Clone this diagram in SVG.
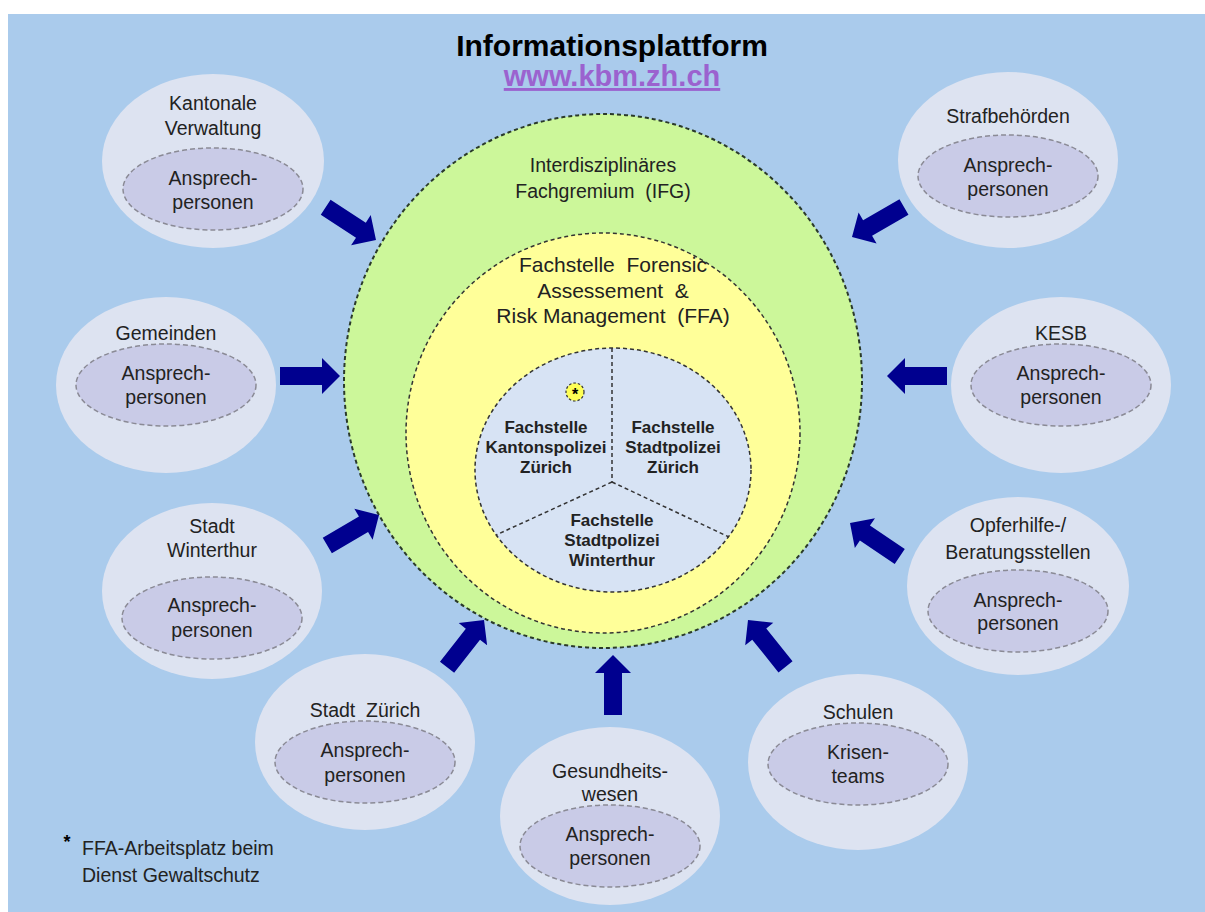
<svg xmlns="http://www.w3.org/2000/svg" width="1205" height="912" viewBox="0 0 1205 912">
<style>
text{font-family:"Liberation Sans",Arial,sans-serif;fill:#222;text-anchor:middle;white-space:pre}
.sat{fill:#dde3f1}
.inn{fill:#c9cbe7;stroke:#8a8a95;stroke-width:1.5;stroke-dasharray:5 3}
.t19{font-size:19.5px}
.b16{font-size:17px;font-weight:bold}
.t20{font-size:21px}
.arr{fill:#00008f}
</style>
<defs>
<path id="arrow" d="M0,0 L-18,-18 L-18,-9 L-60,-9 L-60,9 L-18,9 L-18,18 Z"/>
</defs>
<rect x="8" y="14" width="1197" height="898" fill="#aacbec"/>
<g id="title">
<text x="612" y="56" style="font-size:30px;font-weight:bold;fill:#000">Informationsplattform</text>
<text x="612" y="86" style="font-size:29px;font-weight:bold;fill:#9b62cf;text-decoration:underline">www.kbm.zh.ch</text>
</g>
<g id="ifg">
<ellipse cx="603" cy="381" rx="259" ry="267" fill="#ccf79a" stroke="#2a3a2a" stroke-width="2" stroke-dasharray="4 3"/>
<text class="t19" x="603" y="172">Interdisziplinäres</text>
<text class="t19" x="603" y="198" xml:space="preserve">Fachgremium  (IFG)</text>
</g>
<g id="ffa">
<ellipse cx="603" cy="433" rx="197" ry="200" fill="#ffff99" stroke="#333" stroke-width="1.5" stroke-dasharray="4 3"/>
<text class="t20" x="613" y="272" xml:space="preserve">Fachstelle  Forensic</text>
<text class="t20" x="613" y="298" xml:space="preserve">Assessement  &amp;</text>
<text class="t20" x="613" y="323" xml:space="preserve">Risk Management  (FFA)</text>
</g>
<g id="fachstellen">
<ellipse cx="613" cy="470" rx="138" ry="122" fill="#d7e3f4" stroke="#333" stroke-width="1.5" stroke-dasharray="4 3"/>
<path d="M612,348 L612,482 M612,482 L496,535 M612,482 L729,537" fill="none" stroke="#333" stroke-width="1.5" stroke-dasharray="4 3"/>
<circle cx="575" cy="392" r="9" fill="#ffff55" stroke="#333" stroke-width="1.2" stroke-dasharray="2.5 2"/>
<text x="575" y="400" style="font-size:16px;font-weight:bold;fill:#000">*</text>
<text class="b16" x="546" y="433">Fachstelle</text>
<text class="b16" x="546" y="453">Kantonspolizei</text>
<text class="b16" x="546" y="473">Zürich</text>
<text class="b16" x="673" y="433">Fachstelle</text>
<text class="b16" x="673" y="453">Stadtpolizei</text>
<text class="b16" x="673" y="473">Zürich</text>
<text class="b16" x="612" y="526">Fachstelle</text>
<text class="b16" x="612" y="546">Stadtpolizei</text>
<text class="b16" x="612" y="566">Winterthur</text>
</g>
<g id="kantonale-verwaltung">
<ellipse class="sat" cx="213" cy="161" rx="111" ry="87"/>
<ellipse class="inn" cx="213" cy="189" rx="90" ry="41"/>
<text class="t19" x="213" y="110">Kantonale</text>
<text class="t19" x="213" y="135">Verwaltung</text>
<text class="t19" x="213" y="185">Ansprech-</text>
<text class="t19" x="213" y="209">personen</text>
</g>
<g id="gemeinden">
<ellipse class="sat" cx="166" cy="385" rx="110" ry="88"/>
<ellipse class="inn" cx="166" cy="385" rx="90" ry="41"/>
<text class="t19" x="166" y="340">Gemeinden</text>
<text class="t19" x="166" y="380">Ansprech-</text>
<text class="t19" x="166" y="404">personen</text>
</g>
<g id="stadt-winterthur">
<ellipse class="sat" cx="212" cy="591" rx="110" ry="88"/>
<ellipse class="inn" cx="212" cy="618" rx="90" ry="41"/>
<text class="t19" x="212" y="533">Stadt</text>
<text class="t19" x="212" y="557">Winterthur</text>
<text class="t19" x="212" y="612">Ansprech-</text>
<text class="t19" x="212" y="637">personen</text>
</g>
<g id="stadt-zuerich">
<ellipse class="sat" cx="365" cy="742" rx="110" ry="88"/>
<ellipse class="inn" cx="365" cy="762" rx="90" ry="41"/>
<text class="t19" x="365" y="717" xml:space="preserve">Stadt  Zürich</text>
<text class="t19" x="365" y="757">Ansprech-</text>
<text class="t19" x="365" y="782">personen</text>
</g>
<g id="gesundheitswesen">
<ellipse class="sat" cx="610" cy="816" rx="110" ry="89"/>
<ellipse class="inn" cx="610" cy="846" rx="90" ry="41"/>
<text class="t19" x="610" y="778">Gesundheits-</text>
<text class="t19" x="610" y="801">wesen</text>
<text class="t19" x="610" y="841">Ansprech-</text>
<text class="t19" x="610" y="865">personen</text>
</g>
<g id="schulen">
<ellipse class="sat" cx="858" cy="762" rx="110" ry="88"/>
<ellipse class="inn" cx="858" cy="764" rx="90" ry="41"/>
<text class="t19" x="858" y="719">Schulen</text>
<text class="t19" x="858" y="759">Krisen-</text>
<text class="t19" x="858" y="783">teams</text>
</g>
<g id="opferhilfe">
<ellipse class="sat" cx="1018" cy="586" rx="111" ry="89"/>
<ellipse class="inn" cx="1018" cy="611" rx="90" ry="41"/>
<text class="t19" x="1018" y="532">Opferhilfe-/</text>
<text class="t19" x="1018" y="559">Beratungsstellen</text>
<text class="t19" x="1018" y="607">Ansprech-</text>
<text class="t19" x="1018" y="630">personen</text>
</g>
<g id="kesb">
<ellipse class="sat" cx="1061" cy="385" rx="110" ry="88"/>
<ellipse class="inn" cx="1061" cy="385" rx="90" ry="41"/>
<text class="t19" x="1061" y="340">KESB</text>
<text class="t19" x="1061" y="380">Ansprech-</text>
<text class="t19" x="1061" y="404">personen</text>
</g>
<g id="strafbehoerden">
<ellipse class="sat" cx="1008" cy="160" rx="110" ry="88"/>
<ellipse class="inn" cx="1008" cy="176" rx="90" ry="41"/>
<text class="t19" x="1008" y="123">Strafbehörden</text>
<text class="t19" x="1008" y="172">Ansprech-</text>
<text class="t19" x="1008" y="196">personen</text>
</g>
<g id="connectors" class="arr">
<use href="#arrow" transform="translate(376,240) rotate(33)"/>
<use href="#arrow" transform="translate(340,376) rotate(0)"/>
<use href="#arrow" transform="translate(379,515) rotate(-30.5)"/>
<use href="#arrow" transform="translate(484,620) rotate(-52)"/>
<use href="#arrow" transform="translate(613,655) rotate(-90)"/>
<use href="#arrow" transform="translate(748,620) rotate(-128.7)"/>
<use href="#arrow" transform="translate(850,523) rotate(-146)"/>
<use href="#arrow" transform="translate(887,376) rotate(180)"/>
<use href="#arrow" transform="translate(852,237) rotate(150)"/>
</g>
<g id="footnote">
<text x="67" y="848" style="font-size:18px;font-weight:bold;fill:#000">*</text>
<text x="82" y="855" style="font-size:19.5px;text-anchor:start">FFA-Arbeitsplatz beim</text>
<text x="82" y="882" style="font-size:19.5px;text-anchor:start">Dienst Gewaltschutz</text>
</g>
</svg>
